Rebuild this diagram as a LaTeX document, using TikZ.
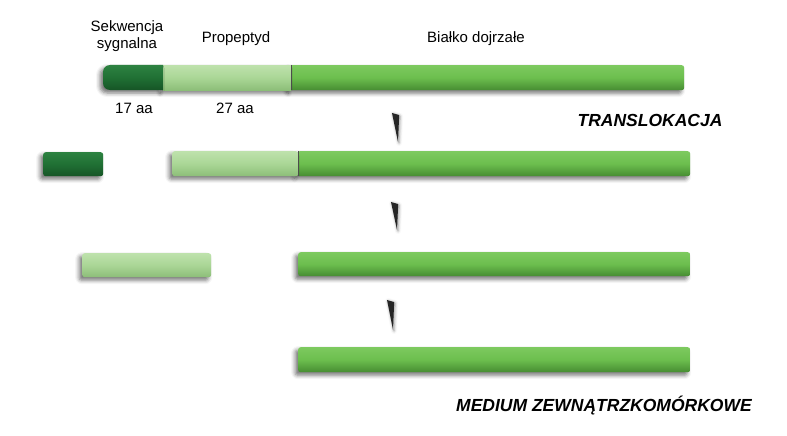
\documentclass[tikz,border=0pt]{standalone}
\usepackage{fontspec}
\setmainfont{Liberation Sans}
\usetikzlibrary{shadows.blur}
\definecolor{dgreen}{RGB}{32,112,52}
\definecolor{dgreenT}{RGB}{45,130,65}
\definecolor{dgreenB}{RGB}{22,85,38}
\definecolor{lgreen}{RGB}{170,214,150}
\definecolor{lgreenT}{RGB}{190,226,172}
\definecolor{lgreenB}{RGB}{140,190,120}
\definecolor{mgreen}{RGB}{108,190,78}
\definecolor{mgreenT}{RGB}{125,202,95}
\definecolor{mgreenB}{RGB}{70,140,50}
\tikzset{
  bar/.style={rectangle, anchor=north west, inner sep=0pt, rounded corners=2.5pt,
    blur shadow={shadow xshift=-3pt, shadow yshift=-3pt, shadow blur radius=4pt, shadow opacity=55}},
  sigbar/.style={bar, top color=dgreenT, bottom color=dgreenB, middle color=dgreen},
  probar/.style={bar, top color=lgreenT, bottom color=lgreenB, middle color=lgreen},
  matbar/.style={bar, top color=mgreenT, bottom color=mgreenB, middle color=mgreen},
  lbl/.style={font=\fontsize{15}{17}\selectfont, align=center, inner sep=0pt},
  hdr/.style={font=\fontsize{17.5}{20}\selectfont\bfseries\itshape, inner sep=0pt},
  wedge/.style={fill=black!85, blur shadow={shadow xshift=1pt, shadow yshift=-1pt, shadow blur radius=3pt, shadow opacity=40}}
}
\begin{document}
\begin{tikzpicture}[x=1pt,y=-1pt]
\useasboundingbox (0,0) rectangle (787,436);
% row 1
\node[matbar, minimum width=395pt, minimum height=25pt] (m1) at (289,65) {};
\node[probar, minimum width=128pt, minimum height=25pt, rounded corners=0pt] (p1) at (163,65) {};
\path[sigbar] (134,65) [rounded corners=7pt] -- (103,65) -- (103,90) -- (134,90)
  [sharp corners] -- (163,90) -- (163,65) -- cycle;
\coordinate (s1) at (103,65);
\draw[black!70, line width=0.5pt] (p1.north east) -- (p1.south east);
% labels
\node[lbl] (tsig) at (127,36) {Sekwencja\\sygnalna};
\node[lbl] (tpro) at (236,39) {Propeptyd};
\node[lbl] (tmat) at (476,39) {Białko dojrzałe};
\node[lbl] (t17) at (134,108) {17 aa};
\node[lbl] (t27) at (235,108) {27 aa};
\node[hdr] (htr) at (650,120) {TRANSLOKACJA};
% row 2
\node[matbar, minimum width=393pt, minimum height=25pt] (m2) at (297,151) {};
\node[probar, minimum width=126pt, minimum height=25pt] (p2) at (172,151) {};
\node[sigbar, minimum width=60pt, minimum height=24pt] (s2) at (43,152) {};
\draw[black!70, line width=0.5pt] (p2.north east) -- (p2.south east);
% row 3
\node[probar, minimum width=129pt, minimum height=24pt] (p3) at (82,253) {};
\node[matbar, minimum width=392pt, minimum height=24pt] (m3) at (298,252) {};
% row 4
\node[matbar, minimum width=392pt, minimum height=25pt] (m4) at (298,347) {};
\node[hdr] (hmed) at (604,406) {MEDIUM ZEWNĄTRZKOMÓRKOWE};
% wedges
\coordinate (a1) at (397,113);
\coordinate (a2) at (396,202);
\coordinate (a3) at (391,300);
\fill[wedge] (a1) ++(-5,0) -- ++(7,2) -- ++(0,4) -- (398,142) -- cycle;
\fill[wedge] (a2) ++(-5,0) -- ++(7,2) -- ++(0,4) -- (397,230) -- cycle;
\fill[wedge] (a3) ++(-4,0) -- ++(7,2) -- ++(0,4) -- (393,330) -- cycle;
\end{tikzpicture}
\end{document}
